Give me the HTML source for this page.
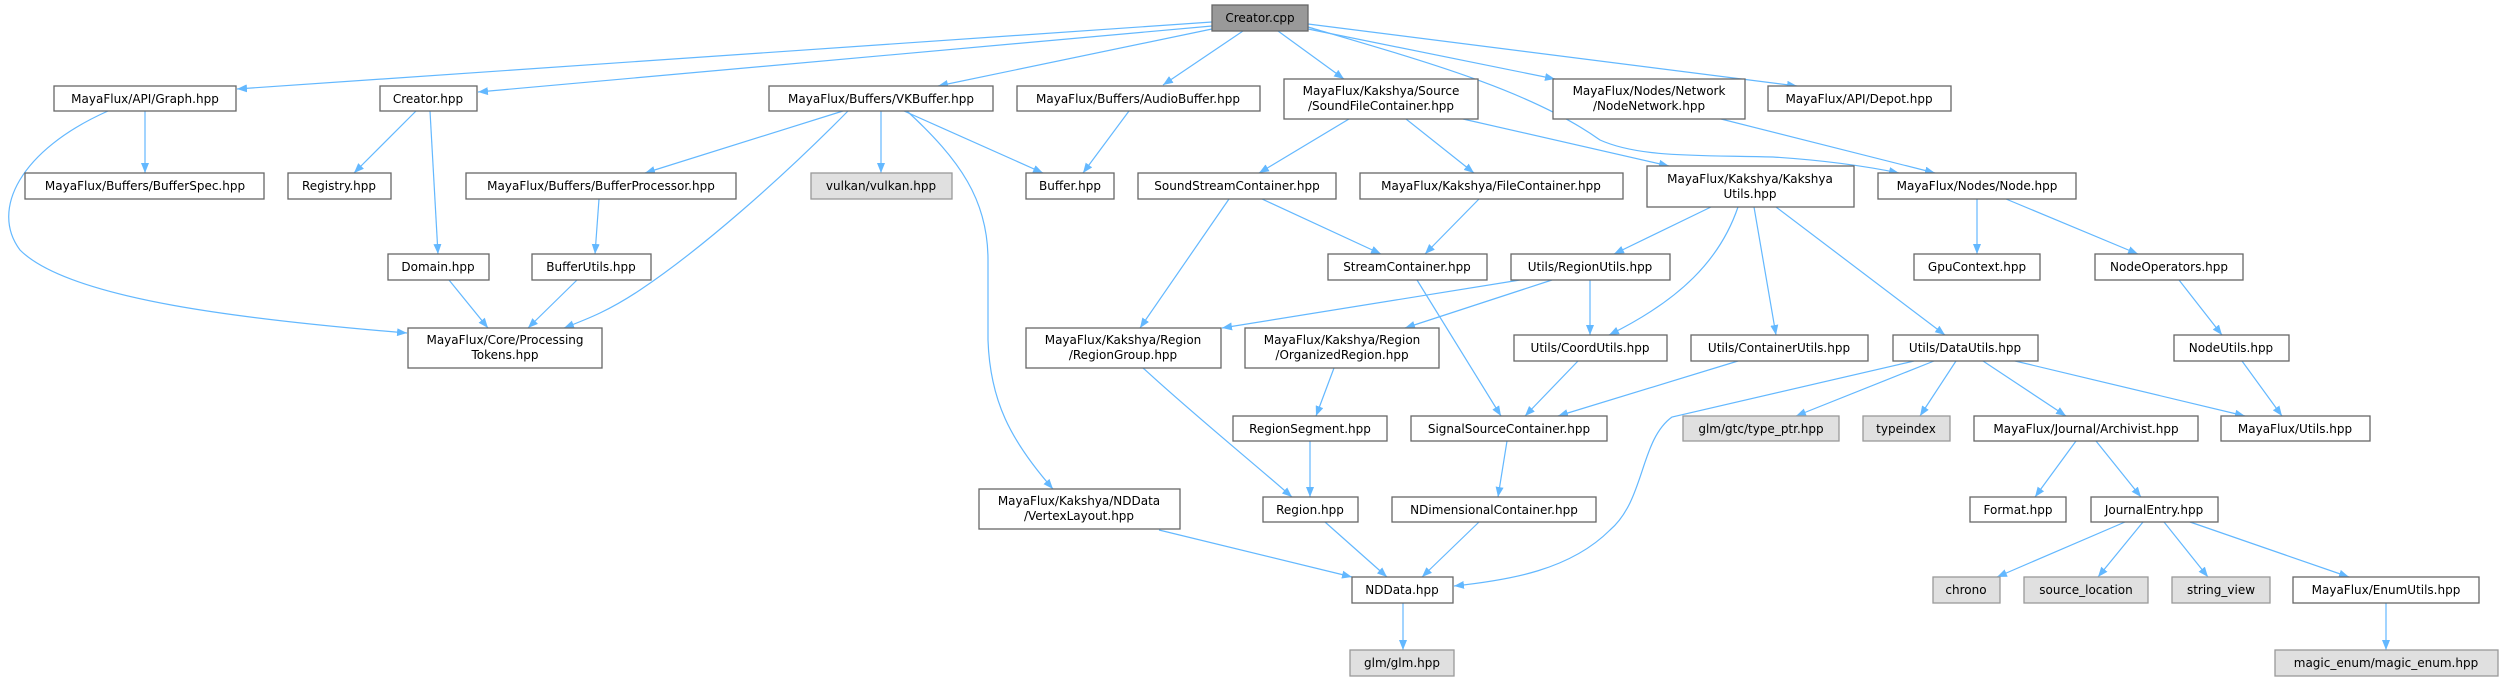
<!DOCTYPE html>
<html><head><meta charset="utf-8"><style>
html,body{margin:0;padding:0;background:#fff;}
svg{display:block;}
text{font-family:"DejaVu Sans","Liberation Sans",sans-serif;font-size:12px;fill:#000;text-anchor:middle;}
.n{fill:#fff;stroke:#666;stroke-width:1.3;}
.g{fill:#e0e0e0;stroke:#999;stroke-width:1.3;}
.e{fill:none;stroke:#63b8ff;stroke-width:1.2;marker-end:url(#a);}
</style></head><body>
<svg width="2503" height="681" viewBox="0 0 2503 681" xmlns="http://www.w3.org/2000/svg">
<defs><marker id="a" viewBox="0 0 10 8" refX="10" refY="4" markerWidth="10" markerHeight="8" markerUnits="userSpaceOnUse" orient="auto"><path d="M0,0L10,4L0,8z" fill="#63b8ff"/></marker></defs>
<g>
<path class="e" d="M1212,22 L237,89"/>
<path class="e" d="M1212,26 L478,92"/>
<path class="e" d="M1212,29 L938,86"/>
<path class="e" d="M1243,31 L1163,85"/>
<path class="e" d="M1278,31 L1344,79"/>
<path class="e" d="M1308,29 L1555,79"/>
<path class="e" d="M1308,24 L1797,86"/>
<path class="e" d="M1308,27 C1420,60 1530,90 1600,140 C1640,158 1700,155 1773,157 C1820,160 1860,165 1899,173"/>
<path class="e" d="M1463,119 L1669,166"/>
<path class="e" d="M1721,119 L1935,173"/>
<path class="e" d="M843,111 L645,173"/>
<path class="e" d="M848,111 C780,180 700,250 640,290 C610,310 590,318 564,328"/>
<path class="e" d="M881,111 L881,173"/>
<path class="e" d="M904,111 L1043,173"/>
<path class="e" d="M907,111 C960,160 988,200 988,260 L988,340 C990,400 1010,440 1053,489"/>
<path class="e" d="M1129,111 L1083,173"/>
<path class="e" d="M145,111 L145,173"/>
<path class="e" d="M108,111 C20,150 -10,210 20,250 C70,300 250,320 407,333"/>
<path class="e" d="M416,111 L354,173"/>
<path class="e" d="M430,111 L438,254"/>
<path class="e" d="M599,199 L595,254"/>
<path class="e" d="M449,280 L488,328"/>
<path class="e" d="M577,280 L528,328"/>
<path class="e" d="M1349,119 L1259,173"/>
<path class="e" d="M1406,119 L1474,173"/>
<path class="e" d="M1262,199 L1381,254"/>
<path class="e" d="M1229,199 L1140,328"/>
<path class="e" d="M1479,199 L1425,254"/>
<path class="e" d="M1417,280 L1501,416"/>
<path class="e" d="M1520,280 L1222,328"/>
<path class="e" d="M1552,280 L1405,328"/>
<path class="e" d="M1590,280 L1590,335"/>
<path class="e" d="M1711,207 L1614,254"/>
<path class="e" d="M1738,207 C1720,260 1680,300 1609,335"/>
<path class="e" d="M1754,207 L1776,335"/>
<path class="e" d="M1776,207 L1945,335"/>
<path class="e" d="M1977,199 L1977,254"/>
<path class="e" d="M2006,199 L2138,254"/>
<path class="e" d="M2179,280 L2222,335"/>
<path class="e" d="M1143,368 C1200,420 1250,460 1292,497"/>
<path class="e" d="M1334,368 L1316,416"/>
<path class="e" d="M1310,441 L1310,497"/>
<path class="e" d="M1578,361 L1525,416"/>
<path class="e" d="M1738,361 L1558,416"/>
<path class="e" d="M1507,441 L1498,497"/>
<path class="e" d="M1159,530 L1352,577"/>
<path class="e" d="M1325,522 L1387,577"/>
<path class="e" d="M1479,522 L1422,577"/>
<path class="e" d="M1914,361 L1672,417 C1640,440 1645,500 1610,530 C1570,570 1510,580 1454,586"/>
<path class="e" d="M1934,361 L1796,416"/>
<path class="e" d="M1956,361 L1920,416"/>
<path class="e" d="M1983,361 L2066,416"/>
<path class="e" d="M2015,361 L2245,416"/>
<path class="e" d="M2242,361 L2282,416"/>
<path class="e" d="M2076,441 L2035,497"/>
<path class="e" d="M2096,441 L2141,497"/>
<path class="e" d="M2125,522 L1997,577"/>
<path class="e" d="M2143,522 L2098,577"/>
<path class="e" d="M2164,522 L2208,577"/>
<path class="e" d="M2190,522 L2349,577"/>
<path class="e" d="M2386,603 L2386,650"/>
<path class="e" d="M1403,603 L1403,650"/>
</g>
<g>
<rect x="1212" y="5" width="96" height="26" fill="#999" stroke="#666" stroke-width="1.3"/><text x="1260" y="22">Creator.cpp</text>
<rect class="n" x="54" y="86" width="182" height="25"/><text x="145" y="103">MayaFlux/API/Graph.hpp</text>
<rect class="n" x="380" y="86" width="97" height="25"/><text x="428" y="103">Creator.hpp</text>
<rect class="n" x="769" y="86" width="224" height="25"/><text x="881" y="103">MayaFlux/Buffers/VKBuffer.hpp</text>
<rect class="n" x="1017" y="86" width="243" height="25"/><text x="1138" y="103">MayaFlux/Buffers/AudioBuffer.hpp</text>
<rect class="n" x="1284" y="79" width="194" height="40"/><text x="1381" y="95">MayaFlux/Kakshya/Source</text><text x="1381" y="110">/SoundFileContainer.hpp</text>
<rect class="n" x="1553" y="79" width="192" height="40"/><text x="1649" y="95">MayaFlux/Nodes/Network</text><text x="1649" y="110">/NodeNetwork.hpp</text>
<rect class="n" x="1768" y="86" width="183" height="25"/><text x="1859" y="103">MayaFlux/API/Depot.hpp</text>
<rect class="n" x="25" y="173" width="239" height="26"/><text x="145" y="190">MayaFlux/Buffers/BufferSpec.hpp</text>
<rect class="n" x="288" y="173" width="103" height="26"/><text x="339" y="190">Registry.hpp</text>
<rect class="n" x="466" y="173" width="270" height="26"/><text x="601" y="190">MayaFlux/Buffers/BufferProcessor.hpp</text>
<rect class="g" x="811" y="173" width="141" height="26"/><text x="881" y="190">vulkan/vulkan.hpp</text>
<rect class="n" x="1026" y="173" width="88" height="26"/><text x="1070" y="190">Buffer.hpp</text>
<rect class="n" x="1138" y="173" width="198" height="26"/><text x="1237" y="190">SoundStreamContainer.hpp</text>
<rect class="n" x="1360" y="173" width="263" height="26"/><text x="1491" y="190">MayaFlux/Kakshya/FileContainer.hpp</text>
<rect class="n" x="1647" y="166" width="207" height="41"/><text x="1750" y="183">MayaFlux/Kakshya/Kakshya</text><text x="1750" y="198">Utils.hpp</text>
<rect class="n" x="1878" y="173" width="198" height="26"/><text x="1977" y="190">MayaFlux/Nodes/Node.hpp</text>
<rect class="n" x="388" y="254" width="101" height="26"/><text x="438" y="271">Domain.hpp</text>
<rect class="n" x="532" y="254" width="119" height="26"/><text x="591" y="271">BufferUtils.hpp</text>
<rect class="n" x="1328" y="254" width="159" height="26"/><text x="1407" y="271">StreamContainer.hpp</text>
<rect class="n" x="1511" y="254" width="159" height="26"/><text x="1590" y="271">Utils/RegionUtils.hpp</text>
<rect class="n" x="1914" y="254" width="126" height="26"/><text x="1977" y="271">GpuContext.hpp</text>
<rect class="n" x="2095" y="254" width="148" height="26"/><text x="2169" y="271">NodeOperators.hpp</text>
<rect class="n" x="408" y="328" width="194" height="40"/><text x="505" y="344">MayaFlux/Core/Processing</text><text x="505" y="359">Tokens.hpp</text>
<rect class="n" x="1026" y="328" width="195" height="40"/><text x="1123" y="344">MayaFlux/Kakshya/Region</text><text x="1123" y="359">/RegionGroup.hpp</text>
<rect class="n" x="1245" y="328" width="194" height="40"/><text x="1342" y="344">MayaFlux/Kakshya/Region</text><text x="1342" y="359">/OrganizedRegion.hpp</text>
<rect class="n" x="1514" y="335" width="153" height="26"/><text x="1590" y="352">Utils/CoordUtils.hpp</text>
<rect class="n" x="1691" y="335" width="177" height="26"/><text x="1779" y="352">Utils/ContainerUtils.hpp</text>
<rect class="n" x="1893" y="335" width="145" height="26"/><text x="1965" y="352">Utils/DataUtils.hpp</text>
<rect class="n" x="2174" y="335" width="115" height="26"/><text x="2231" y="352">NodeUtils.hpp</text>
<rect class="n" x="1233" y="416" width="154" height="25"/><text x="1310" y="433">RegionSegment.hpp</text>
<rect class="n" x="1411" y="416" width="196" height="25"/><text x="1509" y="433">SignalSourceContainer.hpp</text>
<rect class="g" x="1683" y="416" width="156" height="25"/><text x="1761" y="433">glm/gtc/type_ptr.hpp</text>
<rect class="g" x="1863" y="416" width="87" height="25"/><text x="1906" y="433">typeindex</text>
<rect class="n" x="1974" y="416" width="224" height="25"/><text x="2086" y="433">MayaFlux/Journal/Archivist.hpp</text>
<rect class="n" x="2221" y="416" width="149" height="25"/><text x="2295" y="433">MayaFlux/Utils.hpp</text>
<rect class="n" x="979" y="489" width="201" height="40"/><text x="1079" y="505">MayaFlux/Kakshya/NDData</text><text x="1079" y="520">/VertexLayout.hpp</text>
<rect class="n" x="1263" y="497" width="95" height="25"/><text x="1310" y="514">Region.hpp</text>
<rect class="n" x="1392" y="497" width="204" height="25"/><text x="1494" y="514">NDimensionalContainer.hpp</text>
<rect class="n" x="1970" y="497" width="96" height="25"/><text x="2018" y="514">Format.hpp</text>
<rect class="n" x="2091" y="497" width="127" height="25"/><text x="2154" y="514">JournalEntry.hpp</text>
<rect class="n" x="1352" y="577" width="101" height="26"/><text x="1402" y="594">NDData.hpp</text>
<rect class="g" x="1933" y="577" width="67" height="26"/><text x="1966" y="594">chrono</text>
<rect class="g" x="2024" y="577" width="124" height="26"/><text x="2086" y="594">source_location</text>
<rect class="g" x="2172" y="577" width="98" height="26"/><text x="2221" y="594">string_view</text>
<rect class="n" x="2293" y="577" width="186" height="26"/><text x="2386" y="594">MayaFlux/EnumUtils.hpp</text>
<rect class="g" x="1350" y="650" width="104" height="26"/><text x="1402" y="667">glm/glm.hpp</text>
<rect class="g" x="2275" y="650" width="223" height="26"/><text x="2386" y="667">magic_enum/magic_enum.hpp</text>
</g>
</svg>
</body></html>
